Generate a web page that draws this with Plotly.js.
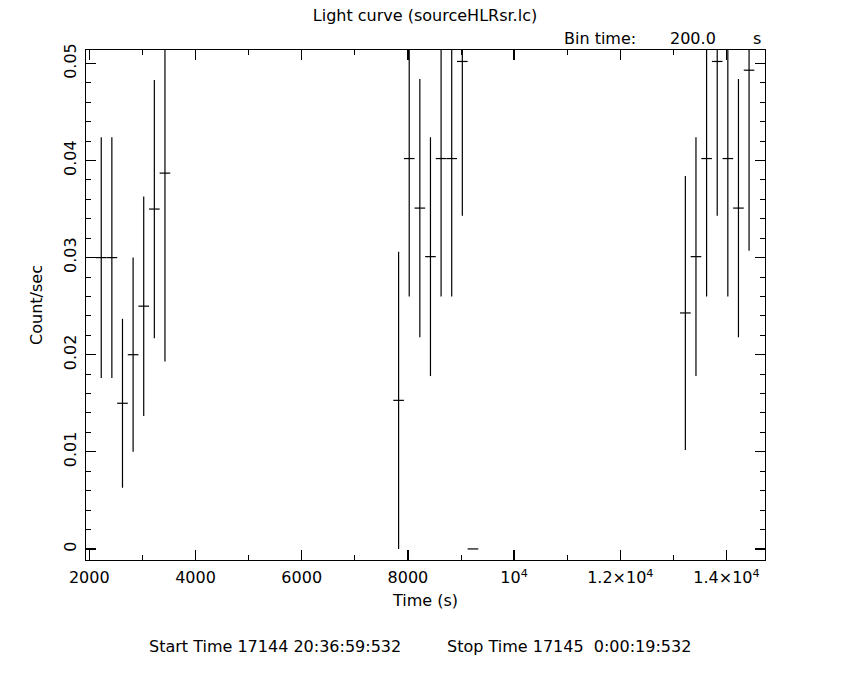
<!DOCTYPE html>
<html>
<head>
<meta charset="utf-8">
<script src="https://cdn.plot.ly/plotly-3.0.1.min.js"></script>
<style>html,body{margin:0;padding:0;background:#fff;}#chart{width:850px;height:680px;}</style>
</head>
<body>
<div id="chart"></div>
<script>
var timeSec = [2225, 2425, 2625, 2825, 3025, 3225, 3425,
               7825, 8025, 8225, 8425, 8625, 8825, 9025, 9225,
               13225, 13425, 13625, 13825, 14025, 14225, 14425];
var rate = [0.0300, 0.0300, 0.0150, 0.0200, 0.0250, 0.0350, 0.0387,
            0.0153, 0.0402, 0.0351, 0.0301, 0.0402, 0.0402, 0.0502, 0.0,
            0.0243, 0.0301, 0.0402, 0.0502, 0.0402, 0.0351, 0.0493];
var rateErr = [0.0124, 0.0124, 0.0087, 0.0100, 0.0113, 0.0133, 0.0194,
               0.0153, 0.0142, 0.0133, 0.0123, 0.0142, 0.0142, 0.0159, 0.0,
               0.0141, 0.0123, 0.0142, 0.0159, 0.0142, 0.0133, 0.0186];
var binHalf = 100;
var xTickVals = [2000, 4000, 6000, 8000, 10000, 12000, 14000];
var xTickText = ['2000', '4000', '6000', '8000', '10<sup>4</sup>', '1.2×10<sup>4</sup>', '1.4×10<sup>4</sup>'];
var yTickVals = [0, 0.01, 0.02, 0.03, 0.04, 0.05];
var yTickText = ['0', '0.01', '0.02', '0.03', '0.04', '0.05'];

var FONT = 'DejaVu Sans, sans-serif';
var FS = 16;

var trace = {
  x: timeSec,
  y: rate,
  type: 'scatter',
  mode: 'markers',
  marker: {size: 1, color: 'rgba(0,0,0,0)'},
  error_x: {type: 'constant', value: binHalf, color: '#000', thickness: 1.2, width: 0},
  error_y: {type: 'data', array: rateErr, visible: true, color: '#000', thickness: 1.2, width: 0},
  hoverinfo: 'x+y',
  cliponaxis: true
};

var L = 86, R = 85, T = 50, B = 120, W = 850, H = 680;
var PW = W - L - R, PH = H - T - B;
function px(x) { return (x - L) / PW; }
function py(y) { return 1 - (y - T) / PH; }

function ann(text, x, y, anchor) {
  return {text: text, xref: 'paper', yref: 'paper', x: px(x), y: py(y), xanchor: anchor, yanchor: 'middle',
          showarrow: false, font: {family: FONT, size: FS, color: '#000'}};
}

var layout = {
  width: W, height: H,
  paper_bgcolor: '#fff', plot_bgcolor: '#fff',
  margin: {l: L, r: R, t: T, b: B},
  showlegend: false,
  font: {family: FONT, size: FS, color: '#000'},
  xaxis: {
    range: [1938, 14725],
    showgrid: false, zeroline: false,
    showline: true, linecolor: '#000', linewidth: 1.2, mirror: 'ticks',
    ticks: 'inside', ticklen: 10, tickwidth: 1.2, tickcolor: '#000',
    tickmode: 'array', tickvals: xTickVals, ticktext: xTickText,
    ticklabelstandoff: 3,
    tickfont: {family: FONT, size: FS, color: '#000'},
    minor: {ticks: 'inside', ticklen: 5, tickwidth: 1, tickcolor: '#000', tickmode: 'linear', tick0: 1000, dtick: 1000, showgrid: false},
    title: {text: 'Time (s)', font: {family: FONT, size: FS, color: '#000'}, standoff: 8}
  },
  yaxis: {
    range: [-0.00114, 0.05138],
    showgrid: false, zeroline: false,
    showline: true, linecolor: '#000', linewidth: 1.2, mirror: 'ticks',
    ticks: 'inside', ticklen: 10, tickwidth: 1.2, tickcolor: '#000',
    tickmode: 'array', tickvals: yTickVals, ticktext: yTickText,
    tickangle: -90,
    ticklabelstandoff: 2,
    tickfont: {family: FONT, size: FS, color: '#000'},
    minor: {ticks: 'inside', ticklen: 5, tickwidth: 1, tickcolor: '#000', tickmode: 'linear', tick0: 0, dtick: 0.002, showgrid: false},
    title: {text: 'Count/sec', font: {family: FONT, size: FS, color: '#000'}, standoff: 14}
  },
  title: {text: 'Light curve (sourceHLRsr.lc)', font: {family: FONT, size: FS, color: '#000'},
          xref: 'container', yref: 'container', x: 0.5, xanchor: 'center', y: 1 - 15 / H, yanchor: 'middle'},
  annotations: [
    ann('Bin time:', 562, 38, 'left'),
    ann('200.0', 668, 38, 'left'),
    ann('s', 757, 38, 'center'),
    ann('Start Time 17144 20:36:59:532', 147, 646, 'left'),
    ann('Stop Time 17145  0:00:19:532', 445, 646, 'left')
  ]
};

Plotly.newPlot('chart', [trace], layout, {displayModeBar: false, staticPlot: true});
</script>
</body>
</html>
